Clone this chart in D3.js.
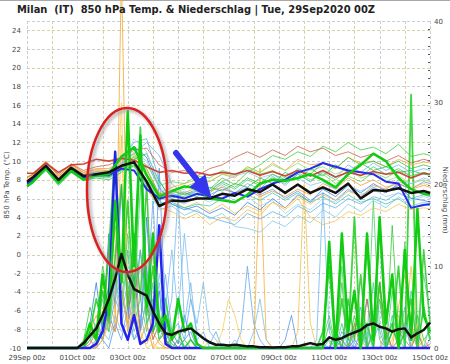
<!DOCTYPE html>
<html>
<head>
<meta charset="utf-8">
<script src="https://cdn.jsdelivr.net/npm/d3@7/dist/d3.min.js"></script>
<style>
body { margin: 0; background: #fff; }
svg text { font-family: "DejaVu Sans", sans-serif; }
</style>
</head>
<body>
<div id="viz"></div>
<script>

// ensemble chart, 850 hPa temp + precip

var titleText = "Milan  (IT)  850 hPa Temp. & Niederschlag | Tue, 29Sep2020 00Z";
var tempTicks = [-10, -8, -6, -4, -2, 0, 2, 4, 6, 8, 10, 12, 14, 16, 18, 20, 22, 24];
var precipTicks = [0, 10, 20, 30, 40];
var dateHours = [0, 48, 96, 144, 192, 240, 288, 336, 384];
var dateLabels = ["29Sep 00z", "01Oct 00z", "03Oct 00z", "05Oct 00z", "07Oct 00z", "09Oct 00z", "11Oct 00z", "13Oct 00z", "15Oct 00z"];

// temp series: 00z, then 06z / 18z steps, then 15Oct 00z
var tempHours = [0, 6, 18, 30, 42, 54, 66, 78, 90, 102, 114, 126, 138, 150, 162, 174, 186, 198, 210, 222, 234, 246, 258, 270, 282, 294, 306, 318, 330, 342, 354, 366, 378, 384];

var tempMean = [7.8, 8.3, 9.5, 8.0, 9.3, 8.4, 8.6, 8.8, 9.5, 9.9, 7.8, 5.2, 5.8, 5.7, 6.0, 6.0, 6.5, 6.3, 7.0, 6.7, 7.5, 6.6, 7.5, 6.6, 7.2, 6.6, 7.6, 6.0, 6.9, 6.8, 7.1, 6.6, 6.8, 6.6];
var tempRed = [8.7, 8.7, 9.8, 8.8, 9.6, 9.7, 10.2, 10.0, 10.3, 10.1, 9.4, 8.8, 9.0, 8.7, 8.8, 8.5, 8.8, 8.6, 9.0, 8.5, 8.9, 8.4, 9.0, 8.4, 9.0, 8.3, 8.8, 8.5, 8.9, 8.6, 8.8, 8.2, 8.7, 8.6];
var tempCtrl = [7.3, 7.8, 9.3, 7.7, 9.0, 8.0, 8.5, 8.6, 10.5, 11.5, 8.5, 6.2, 6.8, 7.3, 7.1, 6.0, 5.8, 5.6, 6.4, 7.6, 8.0, 7.9, 8.2, 8.6, 8.0, 7.2, 8.6, 9.6, 10.8, 10.0, 8.2, 7.0, 6.5, 6.4];
var tempOper = [7.6, 8.0, 9.4, 7.9, 9.1, 8.2, 8.6, 8.5, 9.2, 9.0, 7.0, 6.0, 6.3, 6.0, 6.5, 6.2, 6.0, 6.6, 6.2, 7.0, 7.6, 8.0, 8.8, 9.2, 9.8, 9.4, 9.0, 8.8, 8.6, 7.8, 7.6, 5.0, 5.3, 5.4];

var tempMembers = [
    [7.5, 8.0, 9.2, 7.6, 9.0, 8.2, 8.4, 8.3, 9.0, 10.6, 9.2, 6.5, 6.8, 7.2, 7.8, 7.0, 8.2, 7.5, 8.8, 9.6, 10.6, 10.2, 11.0, 10.5, 11.6, 11.0, 12.0, 11.2, 11.5, 10.8, 11.8, 10.5, 10.8, 10.6],
    [7.9, 8.4, 9.7, 8.2, 9.5, 8.6, 8.9, 9.0, 10.2, 12.0, 12.4, 8.0, 5.6, 5.0, 4.6, 4.0, 3.6, 3.2, 4.4, 3.8, 4.6, 4.0, 5.2, 4.5, 5.5, 5.0, 6.0, 5.4, 6.2, 5.8, 6.6, 6.0, 6.4, 6.2],
    [8.1, 8.6, 9.9, 8.4, 9.6, 8.8, 9.1, 9.0, 9.8, 10.4, 8.6, 6.6, 7.2, 7.6, 8.0, 7.8, 8.6, 8.2, 9.4, 8.8, 9.8, 9.0, 10.2, 9.6, 9.8, 9.2, 10.4, 9.8, 10.0, 9.4, 10.2, 9.6, 9.9, 9.8],
    [7.6, 8.2, 9.4, 7.9, 9.2, 8.3, 8.6, 8.4, 9.6, 11.6, 10.4, 7.2, 5.4, 4.8, 5.2, 4.4, 5.0, 4.2, 5.6, 4.8, 6.0, 5.0, 6.4, 5.6, 7.0, 6.2, 7.4, 6.6, 7.6, 6.8, 7.4, 6.0, 5.8, 5.6],
    [7.7, 8.1, 9.3, 7.8, 9.1, 8.3, 8.5, 8.5, 9.2, 9.8, 8.4, 6.0, 6.4, 6.2, 6.8, 6.6, 7.6, 7.0, 8.0, 7.4, 8.2, 7.6, 8.6, 7.8, 8.8, 8.0, 9.0, 8.4, 9.4, 8.6, 9.2, 8.4, 8.8, 8.6],
    [7.4, 7.9, 9.0, 7.5, 8.8, 8.0, 8.3, 8.2, 9.0, 9.4, 7.2, 4.8, 5.2, 4.2, 4.8, 3.8, 4.4, 3.0, 2.8, 2.4, 3.6, 3.0, 4.2, 3.4, 4.8, 4.0, 5.4, 4.6, 5.8, 5.0, 6.2, 5.2, 5.6, 5.4],
    [8.0, 8.5, 9.6, 8.3, 9.4, 8.6, 8.9, 8.8, 9.4, 9.6, 7.0, 5.2, 5.8, 5.0, 5.6, 4.6, 5.4, 4.4, 5.2, 4.6, 5.6, 4.8, 6.0, 4.0, 3.2, 3.6, 4.6, 4.2, 5.0, 4.6, 5.4, 4.8, 5.0, 4.9],
    [8.3, 8.6, 9.8, 8.6, 9.7, 9.0, 9.4, 9.6, 10.2, 11.2, 11.4, 9.6, 8.8, 9.0, 8.4, 9.2, 9.6, 10.4, 11.0, 10.4, 11.2, 10.6, 11.6, 11.0, 11.4, 10.6, 11.0, 10.4, 10.8, 10.0, 10.6, 9.8, 10.2, 10.0],
    [7.2, 7.7, 9.0, 7.4, 8.8, 7.9, 8.2, 8.0, 8.8, 10.2, 10.8, 7.8, 6.0, 6.6, 6.2, 7.2, 6.8, 7.6, 7.2, 8.2, 7.6, 8.8, 8.0, 9.2, 8.4, 9.6, 8.8, 9.8, 9.0, 9.4, 8.8, 9.0, 8.6, 8.5],
    [7.7, 8.2, 9.5, 7.9, 9.2, 8.5, 8.8, 8.8, 9.6, 10.8, 12.0, 10.6, 7.6, 6.4, 6.8, 6.0, 7.4, 6.6, 7.6, 7.0, 8.4, 7.4, 8.6, 7.8, 9.0, 8.2, 9.6, 8.8, 9.8, 9.0, 9.6, 8.8, 9.2, 9.0],
    [7.8, 8.3, 9.4, 8.1, 9.3, 8.5, 8.7, 8.7, 9.3, 9.6, 7.4, 5.6, 5.4, 5.0, 5.4, 5.2, 6.0, 5.6, 6.4, 5.8, 6.6, 5.8, 6.6, 5.6, 6.2, 5.4, 6.4, 5.6, 6.0, 5.4, 6.0, 5.0, 5.4, 5.2],
    [8.2, 8.7, 10.0, 8.4, 9.7, 8.8, 9.2, 9.2, 10.0, 10.8, 9.0, 6.4, 6.8, 6.6, 7.2, 6.8, 7.2, 6.6, 7.0, 6.2, 6.8, 6.2, 7.0, 6.4, 7.6, 7.0, 8.2, 7.4, 8.0, 7.2, 7.6, 7.0, 7.4, 7.2],
    [7.5, 8.0, 9.2, 7.8, 9.0, 8.2, 8.4, 8.6, 9.4, 10.0, 8.0, 5.8, 6.6, 6.0, 6.6, 6.4, 7.0, 6.6, 7.2, 6.4, 7.0, 6.0, 6.8, 5.8, 6.6, 5.8, 7.0, 6.2, 7.2, 6.6, 7.6, 7.0, 7.8, 7.6],
    [7.6, 8.1, 9.2, 7.7, 9.1, 8.2, 8.6, 8.4, 9.2, 9.7, 8.0, 6.2, 6.6, 7.0, 7.6, 7.8, 8.6, 8.4, 9.4, 8.8, 9.6, 9.0, 9.8, 9.0, 9.4, 8.6, 9.2, 8.2, 8.6, 7.8, 8.4, 7.6, 8.0, 7.8],
    [7.9, 8.3, 9.6, 8.1, 9.4, 8.5, 8.8, 8.9, 9.8, 11.0, 10.0, 7.0, 6.2, 6.8, 6.4, 7.0, 7.8, 8.4, 8.8, 8.2, 8.6, 7.8, 8.2, 7.4, 7.8, 7.0, 7.4, 6.8, 7.4, 7.0, 8.0, 7.6, 8.2, 8.0],
    [7.4, 7.8, 9.1, 7.6, 8.9, 8.1, 8.4, 8.3, 9.1, 9.5, 7.6, 5.8, 6.8, 6.4, 7.0, 6.8, 7.8, 7.2, 8.2, 7.6, 8.6, 8.0, 9.2, 8.6, 9.8, 9.2, 10.4, 9.6, 10.0, 9.4, 10.0, 9.2, 9.6, 9.4],
    [7.6, 8.2, 9.4, 8.0, 9.2, 8.4, 8.7, 8.6, 9.4, 12.4, 11.0, 7.4, 6.0, 5.4, 6.2, 5.6, 6.6, 5.8, 6.2, 5.2, 5.8, 4.4, 5.4, 4.8, 6.0, 5.6, 6.8, 6.4, 7.0, 6.2, 6.6, 5.8, 6.2, 6.0],
    [7.9, 8.4, 9.6, 8.2, 9.5, 8.7, 9.0, 8.9, 9.6, 10.0, 7.6, 5.0, 4.6, 3.8, 4.4, 3.2, 4.0, 3.6, 4.8, 4.2, 5.6, 5.0, 6.2, 5.4, 6.4, 5.8, 6.8, 6.2, 7.4, 7.0, 7.8, 7.2, 7.6, 7.4],
    [7.6, 8.0, 9.3, 7.8, 9.0, 8.2, 8.5, 8.6, 9.2, 10.4, 9.6, 7.4, 7.8, 7.6, 8.4, 8.2, 9.0, 8.6, 9.2, 8.6, 9.0, 8.2, 8.8, 8.0, 8.6, 7.6, 8.4, 7.8, 8.8, 8.2, 9.0, 8.4, 8.8, 8.6]
];
var tempColors = ["#33cc33", "#55aaee", "#f0a830", "#3377dd", "#44cc55", "#77c8e8", "#f2c04a", "#c8553a",
                  "#22bb44", "#66b0f0", "#3cc8a0", "#f09030", "#5590e0", "#88dd66", "#88c0f0", "#2fbf3f",
                  "#9ad0f0", "#f4b850", "#58d858"];

// precip series, 6-hourly
var precipHours = [0, 6, 12, 18, 24, 30, 36, 42, 48, 54, 60, 66, 72, 78, 84, 90, 96, 102, 108, 114, 120, 126, 132, 138,
                   144, 150, 156, 162, 168, 174, 180, 186, 192, 198, 204, 210, 216, 222, 228, 234, 240, 246, 252, 258,
                   264, 270, 276, 282, 288, 294, 300, 306, 312, 318, 324, 330, 336, 342, 348, 354, 360, 366, 372, 378, 384];

var precipMean = [0, 0, 0, 0, 0, 0, 0, 0,
    0, 0.6, 1.5, 2.4, 4.0, 6.0, 8.5, 11.5,
    9.0, 7.2, 6.8, 6.4, 4.5, 3.0, 1.8, 1.6,
    2.0, 2.2, 2.4, 1.8, 1.2, 0.7, 0.4, 0.4,
    0.3, 0.4, 0.3, 0.2, 0.2, 0.1, 0.1, 0.05,
    0.1, 0.1, 0.2, 0.2, 0.4, 0.6, 0.4, 0.5,
    1.3, 1.0, 1.2, 1.6, 1.9, 2.2, 2.8, 3.0,
    2.6, 2.4, 2.0, 2.3, 2.4, 1.3, 1.8, 2.2,
    3.1];
var precipCtrl = [0, 0, 0, 0, 0, 0, 0, 0,
    0, 0.5, 3, 1, 9, 4, 18, 8,
    29, 10, 26, 5, 14, 2, 4, 1,
    6, 2, 3, 0.5, 0, 0, 0, 0,
    0, 0, 0, 0, 0, 0, 0, 0,
    0, 0, 0, 0, 0, 0, 0, 0,
    13, 0, 14, 2, 7, 0, 14, 1,
    16, 3, 9, 0, 12, 1, 17, 4,
    2];
var precipOper = [0, 0, 0, 0, 0, 0, 0, 0,
    0, 0, 0, 0.5, 2, 6, 24, 3,
    1, 4, 0.5, 1, 3, 15, 0.5, 0,
    0, 0, 0, 0, 0, 0, 0, 0,
    0, 0, 0, 0, 0, 0, 0, 0,
    0, 0, 0, 0, 0, 0, 0, 0,
    0, 0, 0, 0, 0, 0, 0, 0,
    0, 0, 0, 0, 0, 0, 0, 0,
    0];

var precipMembers = [
    [0, 0, 0, 0, 0, 0, 0, 0,  0, 0.5, 2, 4, 1, 6, 3, 46,  6, 3, 1, 0.5, 2, 0.5, 0, 0,  1, 0, 0, 0, 0, 0, 0, 0,
     0, 0, 0, 0, 0, 0, 0, 0,  0, 0, 0, 0, 0, 0, 0, 0,  0, 0, 0, 0.5, 0, 1, 0, 0,  0, 2, 0, 5, 9, 3, 0, 1,  0],
    [0, 0, 0, 0, 0, 0, 0, 0,  0, 1, 5, 2, 10, 6, 15, 9,  28, 6, 12, 3, 5, 1, 2, 0.5,  0, 1, 0, 0, 0, 0, 0, 0,
     0, 0, 0, 0, 0, 0, 0, 0,  0, 0, 0, 0, 0, 0, 0, 0,  3, 0, 8, 0, 4, 1, 12, 0,  6, 0, 15, 2, 1, 0, 4, 1,  2],
    [0, 0, 0, 0, 0, 0, 0, 0,  0, 0, 1, 0, 3, 2, 6, 4,  8, 3, 12, 6, 18, 4, 9, 2,  3, 1, 6, 2, 1, 0.5, 2, 0,
     0, 0, 2, 10, 3, 1, 0, 0,  0, 0, 0, 0, 0, 0, 0, 0.5,  0, 1, 0, 3, 0, 2, 6, 1,  3, 0, 2, 1, 5, 0, 2, 0,  1],
    [0, 0, 0, 0, 0, 0, 0, 0,  0, 0.5, 3, 8, 2, 14, 5, 20,  4, 9, 2, 16, 3, 7, 1, 2,  0.5, 4, 1, 0, 0, 0, 0, 0,
     0, 0, 0, 0, 0, 0, 0, 0,  0, 0, 0, 0, 0, 0, 0, 0,  0, 0, 0, 0, 1, 0, 0, 0,  0, 0, 0, 0, 0, 0, 0, 0,  0],
    [0, 0, 0, 0, 0, 0, 0, 0,  0, 0, 1, 0, 2, 12, 4, 26,  2, 8, 1, 3, 0, 0, 0, 0,  0, 0, 0, 0, 0, 0, 0, 0,
     0, 0, 0, 0, 0, 0, 0, 0,  0, 0, 0, 2, 20, 3, 0, 0,  0, 0, 0, 0, 0, 0, 0, 0,  0, 0, 1, 4, 2, 10, 1, 0,  0],
    [0, 0, 0, 0, 0, 0, 0, 0,  0, 0, 0.5, 2, 1, 4, 2, 7,  3, 12, 2, 6, 1, 3, 0.5, 1,  0, 0, 0, 0, 0, 0, 0, 0,
     0, 0, 0, 0, 0, 0, 0, 0,  0, 0, 0, 0, 0, 0, 0, 0,  0, 0, 1, 0, 3, 0, 6, 1,  8, 2, 0, 1, 3, 0, 2, 0,  0.5],
    [0, 0, 0, 0, 0, 0, 0, 0,  0, 0, 2, 6, 3, 12, 24, 8,  18, 5, 27, 4, 10, 2, 6, 1,  2, 0, 1, 0, 0, 0, 0, 0,
     0, 0, 0, 0, 0, 0, 0, 0,  0, 0, 0, 0, 0, 0, 0, 2,  10, 0, 6, 1, 16, 0, 3, 0,  8, 0, 2, 10, 0, 31, 0, 5,  1],
    [0, 0, 0, 0, 0, 0, 0, 0,  0, 0, 0, 1, 4, 2, 8, 3,  6, 2, 4, 1, 3, 8, 2, 6,  19, 3, 8, 1, 2, 0, 0, 0,
     0, 0, 0, 0, 0, 0, 0, 0,  0, 0, 0, 0, 0, 0, 1, 19,  2, 0, 1, 0, 0, 2, 0, 0,  0, 0, 0, 0, 0, 0, 0, 0,  0],
    [0, 0, 0, 0, 0, 0, 0, 0,  0, 0, 1, 3, 1, 5, 9, 4,  12, 3, 6, 2, 8, 1, 3, 0,  1, 0, 0, 0, 0, 0, 0, 0,
     0, 0, 0, 0, 0, 0, 0, 0,  0, 0, 0, 0, 0, 0, 0, 0,  1, 0, 3, 0, 2, 5, 0, 8,  1, 0, 4, 1, 0, 7, 2, 0,  3],
    [0, 0, 0, 0, 0, 0, 0, 0,  0, 0, 0, 1, 5, 2, 12, 30,  3, 1, 2, 0, 0.5, 0, 0, 0,  0, 0, 0, 0, 0, 1, 0, 2,
     6, 4, 1, 0, 0, 0, 0, 0,  0, 0, 0, 0, 0, 0, 0, 0,  0, 0, 0, 0, 0, 0, 0, 0,  0, 0, 0, 0, 0, 0, 3, 0,  0],
    [0, 0, 0, 0, 0, 0, 0, 0,  0, 0, 0, 0, 1, 0, 3, 1,  5, 1, 3, 10, 2, 22, 4, 1,  0, 1, 2, 0, 0, 0, 0, 0,
     0, 0, 0, 0, 0, 0, 0, 0,  0, 1, 4, 0, 0, 0, 0, 0,  0, 0, 2, 1, 0, 0, 0, 0,  0, 0, 0, 0, 0, 0, 0, 0,  0],
    [0, 0, 0, 0, 0, 0, 0, 0,  0, 0, 2, 1, 7, 3, 11, 20,  5, 14, 6, 20, 2, 4, 1, 0,  0, 0, 0, 0, 0, 0, 0, 0,
     0, 0, 0, 0, 0, 0, 0, 0,  0, 0, 0, 0, 0, 0, 0, 0,  0, 2, 0, 6, 1, 9, 0, 2,  15, 1, 3, 0, 2, 6, 0, 12,  3],
    [0, 0, 0, 0, 0, 0, 0, 0,  0, 0, 0, 1, 2, 1, 4, 2,  3, 1, 2, 6, 3, 9, 5, 12,  4, 14, 6, 3, 8, 2, 1, 0,
     0, 1, 0, 0, 2, 6, 1, 0,  0, 0, 0, 0, 0, 0, 0, 0,  0, 0, 0, 1, 0, 0, 2, 0,  0, 1, 0, 0, 3, 0, 0, 0,  0],
    [0, 0, 0, 0, 0, 0, 0, 0,  0, 0, 0, 0, 1, 3, 2, 8,  2, 5, 1, 3, 0, 1, 0, 0,  0, 0, 0, 0, 0, 0, 0, 0,
     0, 0, 0, 0, 0, 22, 1, 0,  0, 0, 0, 0, 0, 0, 0, 0,  0, 0, 0, 0, 0, 0, 0, 0,  0, 0, 0, 0, 0, 0, 0, 0,  0],
    [0, 0, 0, 0, 0, 0, 0, 0,  0, 0, 1, 2, 6, 2, 10, 5,  14, 4, 20, 3, 6, 1, 2, 0,  0, 0, 0, 0, 0, 0, 0, 0,
     0, 0, 0, 0, 0, 0, 0, 0,  0, 0, 0, 0, 0, 0, 0, 1,  4, 0, 10, 0, 2, 3, 0, 18,  2, 0, 7, 0, 13, 2, 0, 9,  4]
];
var precipColors = ["#f0a830", "#33cc33", "#66aaee", "#3f7fe0", "#f2c04a", "#c86040",
                    "#11cc11", "#70b8f0", "#40c890", "#f5d060", "#5599ee", "#22c022",
                    "#7cc0ec", "#f4b040", "#50d070"];
var precipWidths = [1, 1, 1, 1, 1, 1, 1.8, 1, 1, 1, 1, 1.6, 1, 1, 1];

// layout (plotTop: "top" is taken by window.top)
var W = 450, H = 364;
var plotLeft = 27, plotRight = 430, plotTop = 21, plotBottom = 348;

var svg = d3.select("#viz").append("svg")
    .attr("width", W)
    .attr("height", H);

var x = d3.scaleLinear().domain([0, 384]).range([plotLeft, plotRight]);
var yT = d3.scaleLinear().domain([-10, 25]).range([plotBottom, plotTop]);
var yP = d3.scaleLinear().domain([0, 40]).range([plotBottom, plotTop]);

// thin top border of the image
svg.append("line")
    .attr("x1", 0).attr("x2", W).attr("y1", 0.5).attr("y2", 0.5)
    .style("stroke", "#aaa");

// grid
var grid = svg.append("g");
grid.selectAll("line.h")
    .data(tempTicks.concat([25]))
    .enter().append("line")
    .attr("x1", plotLeft).attr("x2", plotRight)
    .attr("y1", function(d) { return Math.round(yT(d)) + 0.5; })
    .attr("y2", function(d) { return Math.round(yT(d)) + 0.5; })
    .style("stroke", function(d, i) { return i % 2 ? "#d9d2a6" : "#c9cfd9"; })
    .style("stroke-dasharray", "3,2");

grid.selectAll("line.v")
    .data(d3.range(0, 385, 24))
    .enter().append("line")
    .attr("y1", plotTop).attr("y2", plotBottom)
    .attr("x1", function(d) { return Math.round(x(d)) + 0.5; })
    .attr("x2", function(d) { return Math.round(x(d)) + 0.5; })
    .style("stroke", function(d, i) { return i % 2 ? "#d9d2a6" : "#c9cfd9"; })
    .style("stroke-dasharray", "3,2");

// right axis minor ticks (1 mm)
grid.selectAll("line.mt")
    .data(d3.range(1, 40))
    .enter().append("line")
    .attr("x1", plotRight - 2).attr("x2", plotRight)
    .attr("y1", function(d) { return Math.round(yP(d)) + 0.5; })
    .attr("y2", function(d) { return Math.round(yP(d)) + 0.5; })
    .style("stroke", "#555");

var tLine = d3.line()
    .x(function(d, i) { return x(tempHours[i]); })
    .y(function(d) { return yT(d); });
var pLine = d3.line()
    .x(function(d, i) { return x(precipHours[i]); })
    .y(function(d) { return yP(d); });

function drawLine(gen, data, color, width, opacity)
{
    svg.append("path")
        .datum(data)
        .attr("d", gen)
        .style("fill", "none")
        .style("stroke", color)
        .style("stroke-width", width)
        .style("stroke-opacity", opacity)
        .style("stroke-linejoin", "round");
}

// members
precipMembers.forEach(function(m, i) {
    drawLine(pLine, m, precipColors[i], precipWidths[i], 0.8);
});
tempMembers.forEach(function(m, i) {
    drawLine(tLine, m, tempColors[i], 1, 0.75);
});

// highlighted runs
drawLine(tLine, tempRed, "#cc3322", 1.6, 0.9);
drawLine(pLine, precipOper, "#2222ee", 2.5, 1);
drawLine(tLine, tempOper, "#2a2aee", 2, 1);
drawLine(pLine, precipCtrl, "#11cc11", 2.5, 1);
drawLine(tLine, tempCtrl, "#11cc11", 2.5, 1);
drawLine(pLine, precipMean, "#111", 2.5, 1);
drawLine(tLine, tempMean, "#111", 2.5, 1);

// axis labels
var axis = svg.append("g").style("font-size", "7px").style("fill", "#444");

axis.selectAll("text.yl")
    .data(tempTicks)
    .enter().append("text")
    .attr("x", 21)
    .attr("y", function(d) { return yT(d) + 2.5; })
    .attr("text-anchor", "end")
    .text(function(d) { return d; });

axis.selectAll("text.yr")
    .data(precipTicks)
    .enter().append("text")
    .attr("x", 434)
    .attr("y", function(d) { return yP(d) + 2.5; })
    .text(function(d) { return d; });

axis.selectAll("text.xl")
    .data(dateHours)
    .enter().append("text")
    .attr("x", function(d) { return x(d); })
    .attr("y", 360)
    .attr("text-anchor", "middle")
    .text(function(d, i) { return dateLabels[i]; });

axis.append("text")
    .attr("transform", "translate(9,185) rotate(-90)")
    .attr("text-anchor", "middle")
    .text("850 hPa Temp. (°C)");

axis.append("text")
    .attr("transform", "translate(443,200) rotate(90)")
    .attr("text-anchor", "middle")
    .text("Niederschlag (mm)");

svg.append("text")
    .attr("x", 17)
    .attr("y", 13)
    .attr("textLength", 358)
    .attr("lengthAdjust", "spacingAndGlyphs")
    .style("font-size", "10.5px")
    .style("font-weight", "bold")
    .style("fill", "#222")
    .style("white-space", "pre")
    .text(titleText);

// hand drawn annotations
var defs = svg.append("defs");
defs.append("filter").attr("id", "blur")
    .append("feGaussianBlur").attr("stdDeviation", 1.5);

svg.append("ellipse")
    .attr("cx", 129).attr("cy", 192).attr("rx", 40).attr("ry", 82)
    .style("fill", "none").style("stroke", "#999").style("stroke-width", 4)
    .style("opacity", 0.6)
    .attr("filter", "url(#blur)");
svg.append("ellipse")
    .attr("cx", 127).attr("cy", 190).attr("rx", 40).attr("ry", 82)
    .style("fill", "none").style("stroke", "#dd1f1f").style("stroke-width", 2.5);

svg.append("line")
    .attr("x1", 176).attr("y1", 153).attr("x2", 198).attr("y2", 181)
    .style("stroke", "#3535ee").style("stroke-width", 6).style("stroke-linecap", "round");
svg.append("polygon")
    .attr("points", "211,198 190,187 205,175")
    .style("fill", "#3535ee").style("stroke", "#3535ee").style("stroke-linejoin", "round");

</script>
</body>
</html>
